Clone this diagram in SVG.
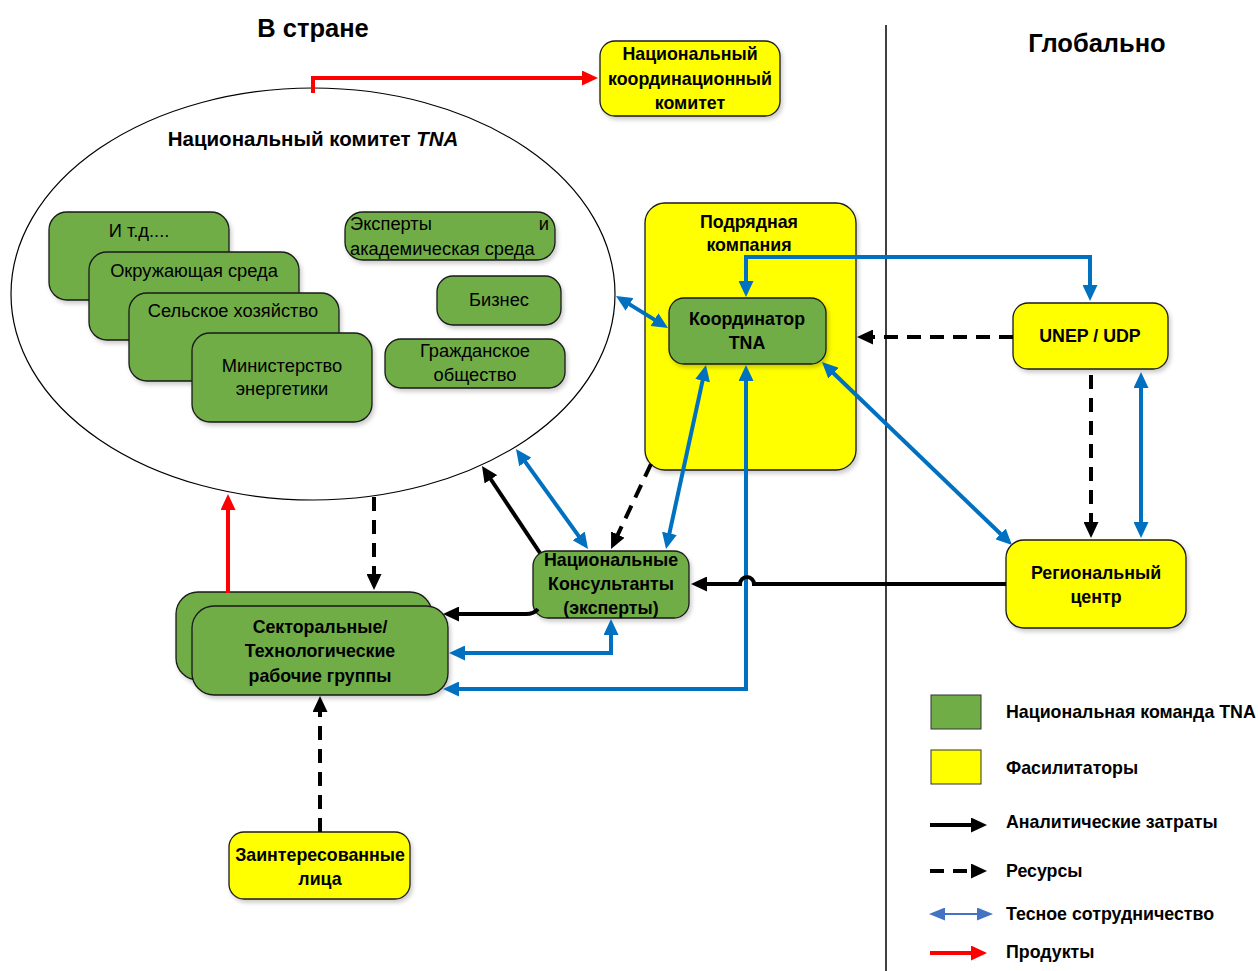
<svg xmlns="http://www.w3.org/2000/svg" width="1258" height="971" viewBox="0 0 1258 971">
<style>
text{font-family:"Liberation Sans",Arial,sans-serif;fill:#000}
.b{font-weight:bold;font-size:17.8px}
.n{font-size:18.3px}
.h{font-weight:bold;font-size:25.5px}
.g{fill:#70AD47;stroke:#1a1a1a;stroke-width:1.3}
.y{fill:#FFFF00;stroke:#1a1a1a;stroke-width:1.3}
.sh{filter:url(#ds)}
.bl{fill:none;stroke:#0070C0;stroke-width:4}
.bk{fill:none;stroke:#000;stroke-width:4}
.ds{fill:none;stroke:#000;stroke-width:4;stroke-dasharray:14 9}
.rd{fill:none;stroke:#FF0000;stroke-width:4}
</style>
<defs>
<filter id="ds" x="-10%" y="-10%" width="130%" height="130%">
<feDropShadow dx="2" dy="3" stdDeviation="2" flood-color="#000" flood-opacity="0.2"/>
</filter>
<marker id="mb" markerUnits="userSpaceOnUse" markerWidth="17" markerHeight="15" refX="10" refY="7.5" orient="auto-start-reverse"><path d="M0,0 L16,7.5 L0,15 z" fill="#0070C0"/></marker>
<marker id="mk" markerUnits="userSpaceOnUse" markerWidth="17" markerHeight="15" refX="10" refY="7.5" orient="auto-start-reverse"><path d="M0,0 L16,7.5 L0,15 z" fill="#000"/></marker>
<marker id="mr" markerUnits="userSpaceOnUse" markerWidth="17" markerHeight="15" refX="10" refY="7.5" orient="auto-start-reverse"><path d="M0,0 L16,7.5 L0,15 z" fill="#FF0000"/></marker>
<marker id="ml" markerUnits="userSpaceOnUse" markerWidth="17" markerHeight="13" refX="6" refY="6.5" orient="auto-start-reverse"><path d="M0,0 L16,6.5 L0,13 z" fill="#4472C4"/></marker>
</defs>
<rect width="1258" height="971" fill="#fff"/>

<text class="h" x="313" y="37" text-anchor="middle">В стране</text>
<text class="h" x="1097" y="52" text-anchor="middle">Глобально</text>
<line x1="886" y1="25" x2="886" y2="971" stroke="#000" stroke-width="1.5"/>

<g id="tna-committee">
<ellipse cx="313" cy="294" rx="302" ry="206" fill="#fff" stroke="#000" stroke-width="1.2"/>
<text x="313" y="146" text-anchor="middle" style="font-weight:bold;font-size:20.5px">Национальный комитет <tspan font-style="italic">TNA</tspan></text>
</g>
<g id="etc"><rect class="g sh" x="49" y="212" width="180" height="88" rx="18"/><text class="n" x="139" y="237" text-anchor="middle">И т.д....</text></g>
<g id="env"><rect class="g sh" x="89" y="252" width="210" height="88" rx="18"/><text class="n" x="194" y="277" text-anchor="middle">Окружающая среда</text></g>
<g id="agri"><rect class="g sh" x="129" y="293" width="210" height="88" rx="18"/><text class="n" x="233" y="317" text-anchor="middle">Сельское хозяйство</text></g>
<g id="energy"><rect class="g sh" x="192" y="333" width="180" height="89" rx="18"/><text class="n" x="282" y="372" text-anchor="middle">Министерство</text><text class="n" x="282" y="395" text-anchor="middle">энергетики</text></g>
<g id="experts"><rect class="g sh" x="345" y="212" width="210" height="48" rx="18"/><text class="n" x="350" y="230">Эксперты</text><text class="n" x="549" y="230" text-anchor="end">и</text><text class="n" x="350" y="255">академическая среда</text></g>
<g id="business"><rect class="g sh" x="437" y="276" width="124" height="49" rx="16"/><text class="n" x="499" y="306" text-anchor="middle">Бизнес</text></g>
<g id="civil"><rect class="g sh" x="385" y="339" width="180" height="49" rx="16"/><text class="n" x="475" y="357" text-anchor="middle">Гражданское</text><text class="n" x="475" y="381" text-anchor="middle">общество</text></g>

<g id="ncc"><rect class="y sh" x="600" y="41" width="180" height="75" rx="15"/><text class="b" x="690" y="60" text-anchor="middle">Национальный</text><text class="b" x="690" y="85" text-anchor="middle">координационный</text><text class="b" x="690" y="109" text-anchor="middle">комитет</text></g>

<g id="contractor"><rect class="y sh" x="645" y="203" width="211" height="267" rx="20"/><text class="b" x="749" y="228" text-anchor="middle">Подрядная</text><text class="b" x="749" y="251" text-anchor="middle">компания</text></g>
<g id="coordinator"><rect class="g sh" x="669" y="298" width="157" height="66" rx="15"/><text class="b" x="747" y="325" text-anchor="middle">Координатор</text><text class="b" x="747" y="349" text-anchor="middle">TNA</text></g>

<g id="unep"><rect class="y sh" x="1013" y="303" width="155" height="66" rx="15"/><text class="b" x="1090" y="342" text-anchor="middle">UNEP / UDP</text></g>
<g id="regional"><rect class="y sh" x="1006" y="540" width="180" height="88" rx="18"/><text class="b" x="1096" y="579" text-anchor="middle">Региональный</text><text class="b" x="1096" y="603" text-anchor="middle">центр</text></g>

<g id="consultants"><rect class="g sh" x="533" y="551" width="156" height="67" rx="15"/><text class="b" x="611" y="566" text-anchor="middle">Национальные</text><text class="b" x="611" y="590" text-anchor="middle">Консультанты</text><text class="b" x="611" y="614" text-anchor="middle">(эксперты)</text></g>

<g id="sectoral"><rect class="g sh" x="176" y="592" width="256" height="88" rx="22"/><rect class="g sh" x="192" y="606" width="256" height="89" rx="22"/><text class="b" x="320" y="633" text-anchor="middle">Секторальные/</text><text class="b" x="320" y="657" text-anchor="middle">Технологические</text><text class="b" x="320" y="682" text-anchor="middle">рабочие группы</text></g>

<g id="stakeholders"><rect class="y sh" x="229" y="832" width="181" height="67" rx="15"/><text class="b" x="320" y="861" text-anchor="middle">Заинтересованные</text><text class="b" x="320" y="885" text-anchor="middle">лица</text></g>

<g id="connectors">
<path class="rd" d="M313,93 V78 H592" marker-end="url(#mr)"/>
<path class="rd" d="M228,593 V500" marker-end="url(#mr)"/>
<path class="ds" d="M374,497 V584" marker-end="url(#mk)"/>
<path class="bk" d="M538,609 Q534,614 526,614 H449" marker-end="url(#mk)"/>
<path class="bk" d="M540,553 L485.3,471" marker-end="url(#mk)"/>
<path class="bl" d="M519.5,453.9 L584.5,544.1" marker-start="url(#mb)" marker-end="url(#mb)"/>
<path class="ds" d="M651,464 L613.6,543.6" marker-end="url(#mk)"/>
<path class="bl" d="M704.7,370.9 L667.3,543.1" marker-start="url(#mb)" marker-end="url(#mb)"/>
<path class="bl" d="M746,371 V689 H449" marker-start="url(#mb)" marker-end="url(#mb)"/>
<path class="bl" d="M611,625 V653 H455" marker-start="url(#mb)" marker-end="url(#mb)"/>
<path class="bl" d="M621.1,299.1 L662.9,324.9" marker-start="url(#mb)" marker-end="url(#mb)"/>
<path class="bl" d="M746,291 V257 H1090 V295" marker-start="url(#mb)" marker-end="url(#mb)"/>
<path class="ds" d="M1013,337 H863" stroke-dasharray="14 10" marker-end="url(#mk)"/>
<path class="ds" d="M1091,375 V532" marker-end="url(#mk)"/>
<path class="bl" d="M1141,378 V532" marker-start="url(#mb)" marker-end="url(#mb)"/>
<path class="bl" d="M826.3,366.2 L1007.7,540.8" marker-start="url(#mb)" marker-end="url(#mb)"/>
<path class="bk" d="M1006,584 H754 A7,7 0 0 0 740,584 H697" marker-end="url(#mk)"/>
<path class="ds" d="M320,832 V702" marker-end="url(#mk)"/>
</g>

<g id="legend">
<rect x="931" y="695" width="50" height="34" fill="#70AD47" stroke="#333" stroke-width="1"/>
<rect x="931" y="750" width="50" height="34" fill="#FFFF00" stroke="#333" stroke-width="1"/>
<path class="bk" d="M930,825 H981" marker-end="url(#mk)"/>
<path class="ds" d="M930,871 H981" stroke-dasharray="8 6" marker-end="url(#mk)"/>
<path d="M939,914 H983" stroke="#4472C4" stroke-width="2" marker-start="url(#ml)" marker-end="url(#ml)"/>
<path class="rd" d="M930,953 H981" marker-end="url(#mr)"/>
<text class="b" x="1006" y="718">Национальная команда TNA</text>
<text class="b" x="1006" y="774">Фасилитаторы</text>
<text class="b" x="1006" y="828">Аналитические затраты</text>
<text class="b" x="1006" y="877">Ресурсы</text>
<text class="b" x="1006" y="920">Тесное сотрудничество</text>
<text class="b" x="1006" y="958">Продукты</text>
</g>
</svg>
